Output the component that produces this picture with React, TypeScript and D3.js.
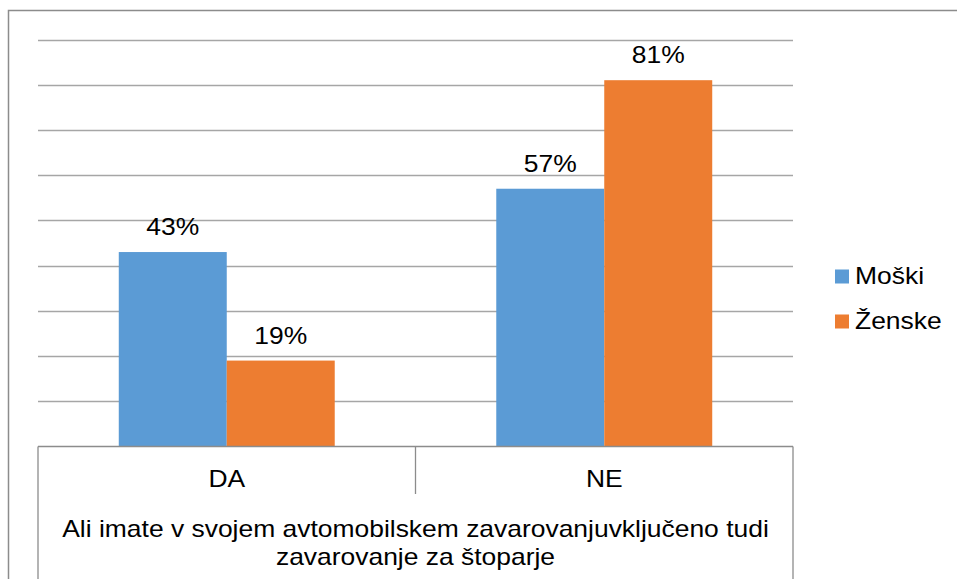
import React from 'react';
import * as d3 from 'd3';

// data
const categories = ['DA', 'NE'];
const seriesNames = ['Moški', 'Ženske'];
const moski = [0.43, 0.57];
const zenske = [0.19, 0.81];
const gridValues = [0, 0.1, 0.2, 0.3, 0.4, 0.5, 0.6, 0.7, 0.8, 0.9];
const titleLines = [
  'Ali imate v svojem avtomobilskem zavarovanjuvključeno tudi',
  'zavarovanje za štoparje',
];

const colors = ['#5B9BD5', '#ED7D31'];
const W = 957;
const H = 579;
const font = '"Liberation Sans", Arial, sans-serif';
const FS = 23;
const SX = 1.15; // the picture's text is a bit wide

// text drawn a little stretched horizontally, like the original
const Label = (props: { x: number; y: number; anchor?: string; children: React.ReactNode }) => (
  <text
    transform={`translate(${props.x},${props.y}) scale(${SX},1)`}
    textAnchor={props.anchor || 'middle'}
    fontSize={FS}
    fill="#000"
  >
    {props.children}
  </text>
);

export default function App() {
  const left = 38;
  const right = 793;
  const base = 446.5;
  const top = 39.5;

  const x0 = d3.scaleBand().domain(categories).range([left, right]).padding(0);
  const x1 = d3
    .scaleBand()
    .domain(seriesNames)
    .range([0, x0.bandwidth()])
    .paddingInner(0)
    .paddingOuter(0.748);
  const y = d3.scaleLinear().domain([0, 0.9]).range([base, top]);

  const values = [moski, zenske];
  const fmt = d3.format('.0%');
  const axisColor = '#8c8c8c';

  return (
    <div style={{ position: 'absolute', left: 0, top: 0 }}>
      <svg width={W} height={H} style={{ display: 'block' }} fontFamily={font}>
        <rect x={0} y={0} width={W} height={H} fill="#fff" />
        {/* outer frame, cut at right and bottom */}
        <rect x={8.5} y={10.5} width={1000} height={700} fill="none" stroke={axisColor} strokeWidth={1.5} />

        {/* gridlines */}
        {gridValues.slice(1).map(v => (
          <line key={v} x1={left} x2={right} y1={Math.round(y(v)) + 0.5} y2={Math.round(y(v)) + 0.5} stroke="#a6a6a6" strokeWidth={1.3} />
        ))}

        {/* bars */}
        {categories.map((c, ci) =>
          seriesNames.map((s, si) => {
            const v = values[si][ci];
            const bx = (x0(c) as number) + (x1(s) as number);
            return (
              <g key={c + s}>
                <rect x={bx} y={y(v)} width={x1.bandwidth()} height={base - y(v)} fill={colors[si]} />
                <Label x={bx + x1.bandwidth() / 2} y={y(v) - 17}>{fmt(v)}</Label>
              </g>
            );
          })
        )}

        {/* category axis */}
        <line x1={left} x2={right} y1={base} y2={base} stroke={axisColor} strokeWidth={1.3} />
        <line x1={left} x2={left} y1={base} y2={H} stroke={axisColor} strokeWidth={1.3} />
        <line x1={right} x2={right} y1={base} y2={H} stroke={axisColor} strokeWidth={1.3} />
        {categories.slice(1).map(c => (
          <line key={c} x1={x0(c)} x2={x0(c)} y1={base} y2={494} stroke={axisColor} strokeWidth={1.3} />
        ))}
        {categories.map(c => (
          <Label key={c} x={(x0(c) as number) + x0.bandwidth() / 2} y={487}>{c}</Label>
        ))}
        {titleLines.map((t, i) => (
          <Label key={i} x={(left + right) / 2} y={537 + i * 27.5}>{t}</Label>
        ))}

        {/* legend */}
        {seriesNames.map((s, i) => (
          <g key={s} transform={`translate(835, ${269.5 + i * 45})`}>
            <rect x={0} y={0} width={14} height={14} fill={colors[i]} />
            <Label x={20} y={14.5} anchor="start">{s}</Label>
          </g>
        ))}
      </svg>
    </div>
  );
}
